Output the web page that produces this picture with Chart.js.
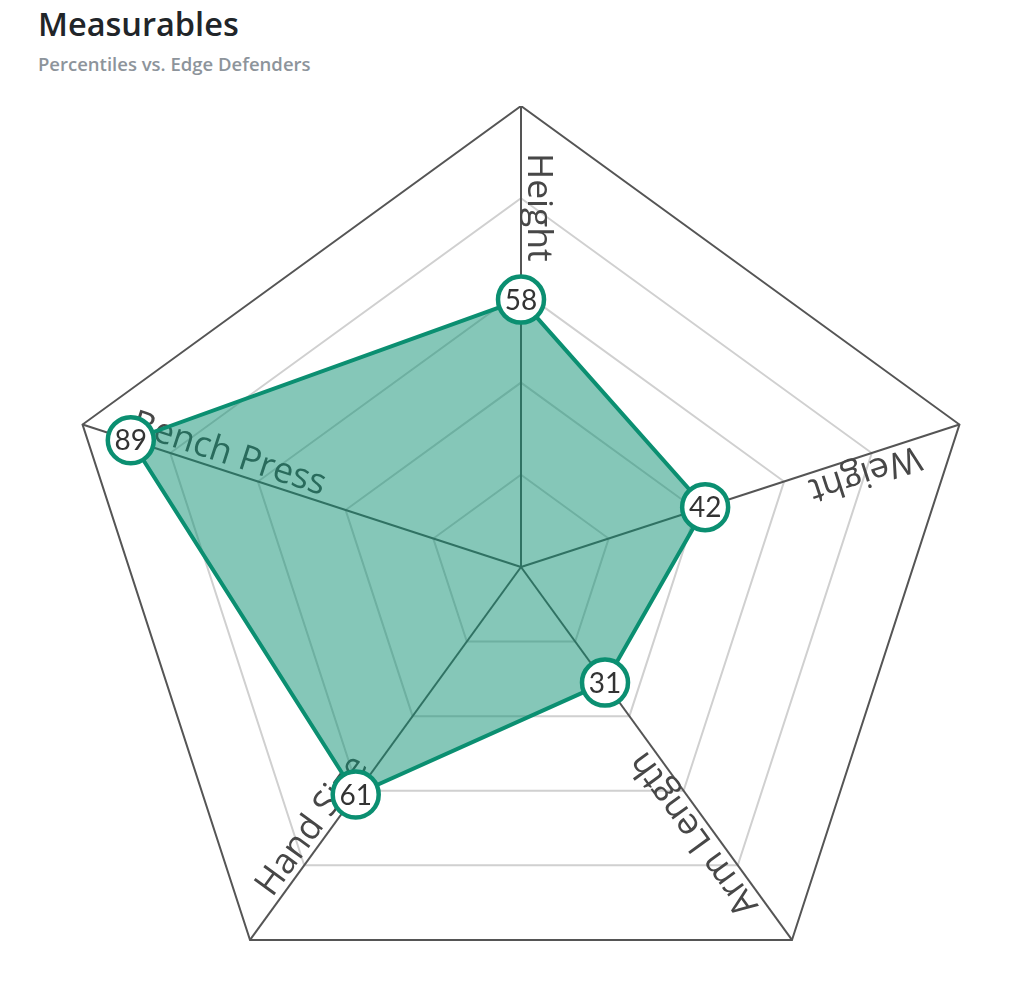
<!DOCTYPE html>
<html>
<head>
<meta charset="utf-8">
<script src="https://cdn.jsdelivr.net/npm/chart.js@4.4.0/dist/chart.umd.min.js"></script>
<style>
  html, body { margin: 0; padding: 0; background: #fff; overflow: hidden; }
  .title { position: absolute; left: 38px; top: 1px; font-family: "Open Sans", sans-serif; font-weight: 600; font-size: 32.5px; color: #212529; margin: 0; }
  .subtitle { position: absolute; left: 38px; top: 51px; font-family: "Open Sans", sans-serif; font-weight: 600; font-size: 18.5px; color: #8d949b; margin: 0; }
  #wrap { position: absolute; left: 60px; top: 106px; width: 922px; height: 922px; }
</style>
</head>
<body>
<h1 class="title">Measurables</h1>
<div class="subtitle">Percentiles vs. Edge Defenders</div>
<div id="wrap"><canvas id="radar"></canvas></div>
<script>
  // measurable categories and percentile values
  const labels = ["Height", "Weight", "Arm Length", "Hand Size", "Bench Press"];
  const percentiles = [58, 42, 31, 61, 89];

  const green = "rgb(11,143,113)";

  // axis names written along each spoke, under the data
  const spokeLabels = {
    id: "spokeLabels",
    beforeDatasetsDraw(chart) {
      const scale = chart.scales.r;
      const ctx = chart.ctx;
      ctx.save();
      ctx.font = "35.5px 'Open Sans', sans-serif";
      ctx.fillStyle = "#474747";
      ctx.textAlign = "left";
      ctx.textBaseline = "bottom";
      labels.forEach((lab, i) => {
        const a = scale.getIndexAngle(i) - Math.PI / 2;
        const p = scale.getPointPosition(i, scale.drawingArea - 47);
        ctx.save();
        ctx.translate(p.x, p.y);
        ctx.rotate(a + Math.PI);
        ctx.fillText(lab, 0, 1);
        ctx.restore();
      });
      ctx.restore();
    }
  };

  // numbers inside the point circles
  const valueLabels = {
    id: "valueLabels",
    afterDatasetsDraw(chart) {
      const ctx = chart.ctx;
      const meta = chart.getDatasetMeta(0);
      ctx.save();
      ctx.font = "28px Lato, sans-serif";
      ctx.fillStyle = "#333";
      ctx.textAlign = "center";
      ctx.textBaseline = "middle";
      meta.data.forEach((pt, i) => {
        ctx.fillText(percentiles[i], pt.x, pt.y + 1);
      });
      ctx.restore();
    }
  };

  new Chart("radar", {
    type: "radar",
    data: {
      labels: labels,
      datasets: [{
        data: percentiles,
        borderColor: green,
        backgroundColor: "rgba(11,143,113,0.5)",
        borderWidth: 4,
        fill: true,
        pointRadius: 23,
        pointHoverRadius: 23,
        pointBorderWidth: 4.5,
        pointBackgroundColor: "#fff",
        pointBorderColor: green
      }]
    },
    options: {
      responsive: true,
      maintainAspectRatio: false,
      animation: false,
      layout: { padding: 0 },
      plugins: { legend: { display: false }, tooltip: { enabled: false } },
      scales: {
        r: {
          min: 0,
          max: 100,
          ticks: { display: false, stepSize: 20 },
          pointLabels: { display: false },
          angleLines: { color: "#555", lineWidth: 2 },
          grid: {
            color: c => c.tick.value === 100 ? "#555" : "#d0d0d0",
            lineWidth: c => c.tick.value === 100 ? 2 : 2
          }
        }
      }
    },
    plugins: [spokeLabels, valueLabels]
  });
</script>
</body>
</html>
